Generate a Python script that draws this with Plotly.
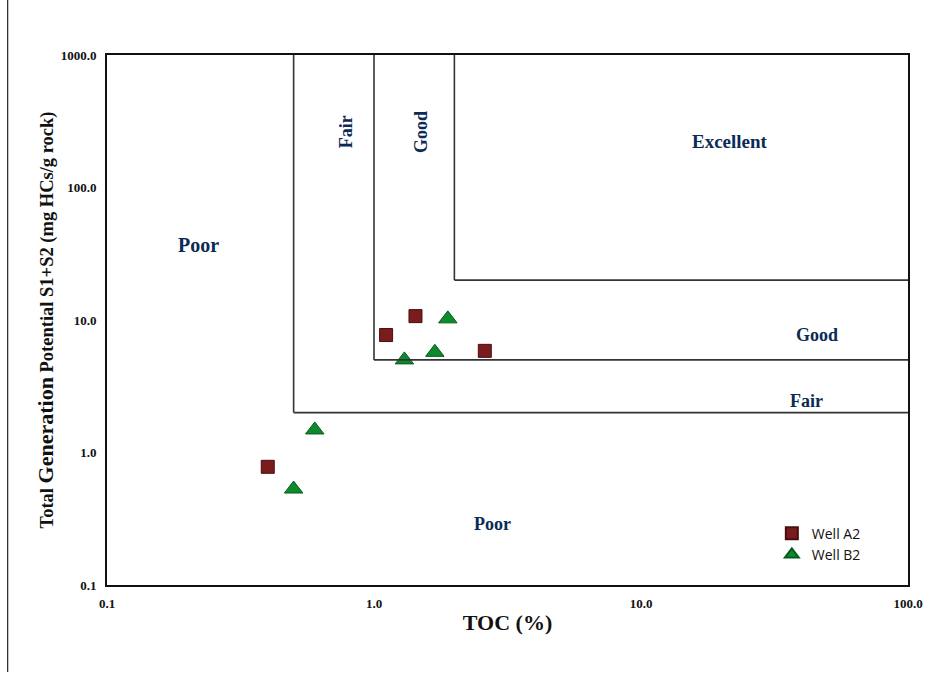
import math
import plotly.graph_objects as go

# Data
well_a2_toc = [0.40, 1.11, 1.43, 2.60]
well_a2_s1s2 = [0.78, 7.7, 10.7, 5.85]
well_b2_toc = [0.50, 0.60, 1.30, 1.69, 1.89]
well_b2_s1s2 = [0.53, 1.48, 5.0, 5.7, 10.2]

x_ticks = [0.1, 1, 10, 100]
x_tick_labels = ["0.1", "1.0", "10.0", "100.0"]
y_ticks = [0.1, 1, 10, 100, 1000]
y_tick_labels = ["0.1", "1.0", "10.0", "100.0", "1000.0"]

# Boundaries of classification zones (TOC, S1+S2)
zone_bounds = [(0.5, 2), (1, 5), (2, 20)]

zone_labels = ["Poor", "Fair", "Good", "Excellent", "Good", "Fair", "Poor"]
zone_label_x = [0.22, 0.783, 1.49, 21.5, 45.5, 41.5, 2.77]
zone_label_y = [37, 264, 264, 223, 7.66, 2.44, 0.29]
zone_label_angle = [0, -90, -90, 0, 0, 0, 0]
zone_label_size = [20, 18, 18, 19, 18, 18, 18]

navy = "#0b2a55"
serif = "Liberation Serif, Times New Roman, serif"

fig = go.Figure()

fig.add_trace(go.Scatter(
    x=well_a2_toc, y=well_a2_s1s2, mode="markers", name="Well A2",
    marker=dict(symbol="square", size=13, color="#7a1c1e",
                line=dict(color="#4a0d0f", width=1)),
))
fig.add_trace(go.Scatter(
    x=well_b2_toc, y=well_b2_s1s2, mode="markers", name="Well B2",
    marker=dict(symbol="triangle-up", size=16, color="#0e8a2e",
                line=dict(color="#075a1c", width=1)),
))

# zone boundary lines
for bx, by in zone_bounds:
    fig.add_shape(type="line", x0=bx, x1=bx, y0=by, y1=1000, xref="x", yref="y",
                  line=dict(color="#333333", width=1.6))
    fig.add_shape(type="line", x0=bx, x1=100, y0=by, y1=by, xref="x", yref="y",
                  line=dict(color="#333333", width=1.6))

# page left border line
fig.add_shape(type="line", xref="paper", yref="paper", x0=-0.124, x1=-0.124,
              y0=1.104, y1=-0.164, line=dict(color="#222222", width=1.2))

for t, x, y, a, s in zip(zone_labels, zone_label_x, zone_label_y,
                         zone_label_angle, zone_label_size):
    fig.add_annotation(x=math.log10(x), y=math.log10(y), xref="x", yref="y",
                       text="<b>%s</b>" % t, textangle=a, showarrow=False,
                       font=dict(family=serif, size=s, color=navy))

fig.update_xaxes(
    type="log", range=[-1, 2], tickvals=x_ticks, ticktext=x_tick_labels,
    showgrid=False, zeroline=False, showline=True, linecolor="#111111",
    linewidth=1.8, mirror=True, ticks="", ticklabelstandoff=5,
    tickfont=dict(family=serif, size=13, color="#111111", weight="bold"),
    title=dict(text="<b>TOC (%)</b>", font=dict(family=serif, size=22, color="#111111"),
               standoff=5),
)
fig.update_yaxes(
    type="log", range=[-1, 3], tickvals=y_ticks, ticktext=y_tick_labels,
    showgrid=False, zeroline=False, showline=True, linecolor="#111111",
    linewidth=1.8, mirror=True, ticks="", ticklabelstandoff=6,
    tickfont=dict(family=serif, size=13, color="#111111", weight="bold"),
    title=dict(text="<b>Total <span style='font-size:22px'>Generation</span> Potential S1+S2 (mg HCs/g rock)</b>",
               font=dict(family=serif, size=18.5, color="#111111"), standoff=2),
)

fig.update_layout(
    width=935, height=674,
    margin=dict(l=107, r=22, t=55, b=89),
    paper_bgcolor="white", plot_bgcolor="white",
    showlegend=True,
    legend=dict(x=0.83, y=0.127, xanchor="left", yanchor="top",
                bgcolor="rgba(255,255,255,0)", borderwidth=0,
                font=dict(family="Open Sans, Calibri, sans-serif", size=14, color="#111111"),
                itemsizing="constant", tracegroupgap=2),
)

fig.write_html("out.html")
